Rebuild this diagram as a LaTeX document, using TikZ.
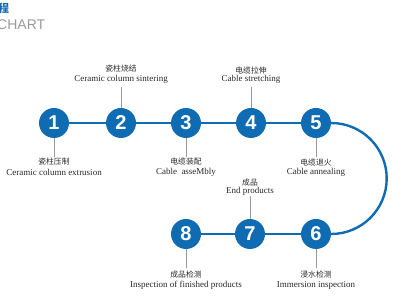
\documentclass[tikz,border=0pt]{standalone}
\usepackage{fontspec}
\setmainfont{Liberation Serif}
\newfontfamily\cjk{Noto Sans CJK SC}
\newfontfamily\numfont{Liberation Sans}
\definecolor{stepblue}{RGB}{16,108,178}
\definecolor{txtgray}{RGB}{40,40,40}
\tikzset{
  num/.style={circle, fill=stepblue, minimum size=30pt, inner sep=0pt, text=white,
    font=\numfont\bfseries\fontsize{20}{20}\selectfont},
  stem/.style={draw=black!40, line width=0.8pt},
  link/.style={draw=stepblue, line width=2.4pt},
  zh/.style={font=\cjk\fontsize{7.8}{8}\selectfont, text=txtgray, inner sep=0pt},
  en/.style={font=\fontsize{9}{9}\selectfont, text=txtgray, inner sep=0pt}
}
\begin{document}
\begin{tikzpicture}[x=1pt,y=1pt]
\useasboundingbox (0,0) rectangle (400,300);
% header
\node[anchor=west, inner sep=0pt, text=stepblue, font=\cjk\bfseries\fontsize{11}{11}\selectfont] (hzh) at (-2,292) {程};
\node[anchor=west, inner sep=0pt, text=black!40, font=\numfont\fontsize{14}{14}\selectfont] (hen) at (-3,275) {CHART};
% circles
\node[num] (n1) at (54,177) {1};
\node[num] (n2) at (121,177) {2};
\node[num] (n3) at (186,177) {3};
\node[num] (n4) at (251,177) {4};
\node[num] (n5) at (316,177) {5};
\node[num] (n8) at (186,66) {8};
\node[num] (n7) at (250,66) {7};
\node[num] (n6) at (316,66) {6};
% links
\draw[link] (n1) -- (n2);
\draw[link] (n2) -- (n3);
\draw[link] (n3) -- (n4);
\draw[link] (n4) -- (n5);
\draw[link] (n6) -- (n7);
\draw[link] (n7) -- (n8);
\draw[link] (n5.east) arc[start angle=90, end angle=-90, radius=55.5pt];
% labels row 1
\coordinate (s1) at (54,143);
\draw[stem] (n1.south) -- (s1);
\node[zh] (z1) at (54,138) {瓷柱压制};
\node[en] (e1) at (54,128) {Ceramic column extrusion};
\coordinate (s2) at (121,213);
\draw[stem] (n2.north) -- (s2);
\node[zh] (z2) at (121,231) {瓷柱烧结};
\node[en] (e2) at (121,221) {Ceramic column sintering};
\coordinate (s3) at (186,143);
\draw[stem] (n3.south) -- (s3);
\node[zh] (z3) at (186,138) {电缆装配};
\node[en] (e3) at (186,128) {Cable\ \ asseMbly};
\coordinate (s4) at (251,213);
\draw[stem] (n4.north) -- (s4);
\node[zh] (z4) at (251,229) {电缆拉伸};
\node[en] (e4) at (251,221) {Cable stretching};
\coordinate (s5) at (316,143);
\draw[stem] (n5.south) -- (s5);
\node[zh] (z5) at (316,137) {电缆退火};
\node[en] (e5) at (316,128) {Cable annealing};
% labels row 2
\coordinate (s7) at (250,104);
\draw[stem] (n7.north) -- (s7);
\node[zh] (z7) at (250,117) {成品};
\node[en] (e7) at (250,109) {End products};
\coordinate (s8) at (186,32);
\draw[stem] (n8.south) -- (s8);
\node[zh] (z8) at (186,25) {成品检测};
\node[en] (e8) at (186,15) {Inspection of finished products};
\coordinate (s6) at (316,32);
\draw[stem] (n6.south) -- (s6);
\node[zh] (z6) at (316,25) {浸水检测};
\node[en] (e6) at (316,15) {Immersion inspection};
\end{tikzpicture}
\end{document}
